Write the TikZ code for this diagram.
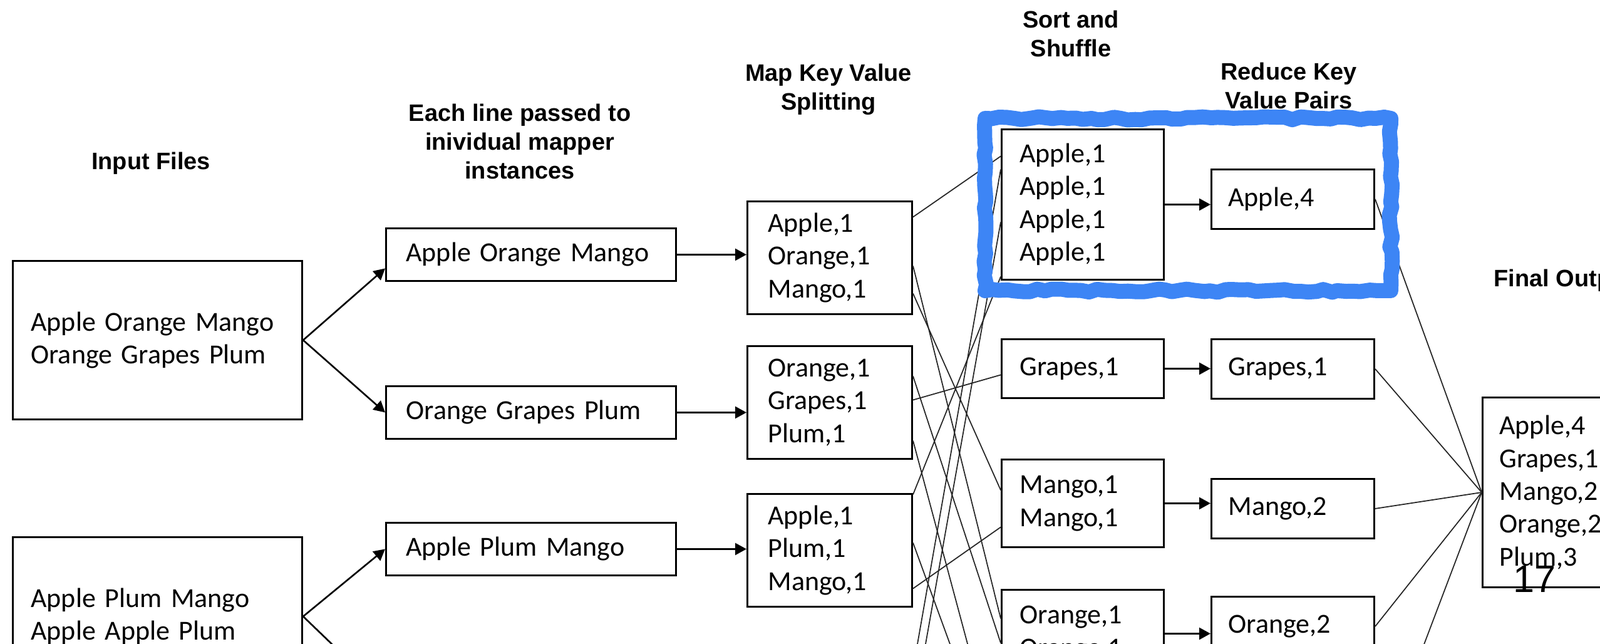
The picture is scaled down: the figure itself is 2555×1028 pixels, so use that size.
\documentclass[tikz,border=0pt]{standalone}
\usepackage{fontspec}
\setmainfont{Carlito}
\newfontfamily\headfont{Liberation Sans}
\usetikzlibrary{arrows.meta, fit, decorations.pathmorphing}
\definecolor{markblue}{RGB}{61,133,245}

\tikzset{
  box/.style={draw, line width=0.8pt, anchor=north west, align=left, inner ysep=0pt,
              font=\fontsize{12.5}{14.9}\selectfont},
  inbox/.style={box, text width=4.04cm, inner xsep=0.29cm, minimum height=2.53cm},
  linebox/.style={box, text width=3.99cm, inner xsep=0.32cm, minimum height=0.84cm},
  mapbox/.style={box, text width=1.97cm, inner xsep=0.33cm, minimum height=1.80cm},
  sortbox/.style={box, text width=2.01cm, inner xsep=0.29cm},
  redbox/.style={box, text width=2.06cm, inner xsep=0.27cm, minimum height=0.95cm},
  outbox/.style={box, text width=2.46cm, inner xsep=0.27cm, minimum height=3.03cm},
  heading/.style={align=center, font=\headfont\bfseries\fontsize{10.8}{13.1}\selectfont},
  link/.style={line width=0.5pt, black!85},
  arr/.style={->, line width=0.75pt},
  hilite/.style={draw=markblue, line width=0.24cm, inner xsep=0.25cm, inner ysep=0.16cm,
                 line join=round, decorate,
                 decoration={random steps, segment length=0.12cm, amplitude=0.025cm}},
}

\begin{document}
\begin{tikzpicture}[x=0.01cm, y=-0.01cm, >={Triangle[length=0.18cm, width=0.19cm]}]
  \useasboundingbox (0,0) rectangle (2555,1028);
  \clip (0,0) rectangle (2555,1028);

  % headings
  \node[heading] (hin) at (241,261) {Input Files};
  \node[heading] (hline) at (830,226) {Each line passed to\\inividual mapper\\instances};
  \node[heading] (hmap) at (1323,143) {Map Key Value\\Splitting};
  \node[heading] (hsort) at (1710,54) {Sort and\\Shuffle};
  \node[heading] (hred) at (2058,137) {Reduce Key\\Value Pairs};
  \node[heading, anchor=west] (hout) at (2373,448) {Final Output};

  % input files
  \node[inbox] (in1) at (19,415) {Apple Orange Mango\\Orange Grapes Plum};
  \node[inbox] (in2) at (19,856) {Apple Plum Mango\\Apple Apple Plum};

  % one line per mapper
  \node[linebox] (l1) at (615,363) {Apple Orange Mango};
  \node[linebox] (l2) at (615,615) {Orange Grapes Plum};
  \node[linebox] (l3) at (615,833) {Apple Plum Mango};
  \coordinate (l4w) at (615,1110);

  % map output
  \node[mapbox] (m1) at (1192,320) {Apple,1\\Orange,1\\Mango,1};
  \node[mapbox] (m2) at (1192,551) {Orange,1\\Grapes,1\\Plum,1};
  \node[mapbox] (m3) at (1192,787) {Apple,1\\Plum,1\\Mango,1};
  \coordinate (m4a) at (1455,1085);
  \coordinate (m4b) at (1455,1157);

  % sort and shuffle
  \node[sortbox, minimum height=2.40cm] (s1) at (1598,205) {Apple,1\\Apple,1\\Apple,1\\Apple,1};
  \node[sortbox, minimum height=0.94cm] (s2) at (1598,540) {Grapes,1};
  \node[sortbox, minimum height=1.40cm] (s3) at (1598,732) {Mango,1\\Mango,1};
  \node[sortbox, minimum height=1.40cm] (s4) at (1598,940) {Orange,1\\Orange,1};
  \coordinate (s5a) at (1598,1225);
  \coordinate (s5b) at (1598,1250);

  % reduce
  \node[redbox] (r1) at (1933,269) {Apple,4};
  \node[redbox] (r2) at (1933,540) {Grapes,1};
  \node[redbox] (r3) at (1933,763) {Mango,2};
  \node[redbox] (r4) at (1933,951) {Orange,2};
  \coordinate (r5e) at (2193,1242);

  % final output
  \node[outbox] (out) at (2366,633) {Apple,4\\Grapes,1\\Mango,2\\Orange,2\\Plum,3};
  \node[font=\headfont\fontsize{17.4}{20}\selectfont] (pg) at (2450,924) {17};

  % splitting
  \draw[arr] (in1.east) -- ([yshift=-0.22cm]l1.west);
  \draw[arr] (in1.east) -- (l2.west);
  \draw[arr] (in2.east) -- (l3.west);
  \draw[arr] (in2.east) -- (l4w);

  \foreach \i in {1,2,3}
    \draw[arr] (l\i.east) -- (l\i.east -| m\i.west);

  % shuffle lines
  \draw[link] ([yshift=0.65cm]m1.east) -- ([yshift=0.77cm]s1.west);
  \draw[link] ([yshift=-0.13cm]m1.east) -- ([yshift=0.24cm]s4.west);
  \draw[link] ([yshift=-0.57cm]m1.east) -- ([yshift=0.21cm]s3.west);
  \draw[link] ([yshift=0.42cm]m2.east) -- ([yshift=-0.15cm]s4.west);
  \draw[link] ([yshift=0.04cm]m2.east) -- ([yshift=-0.10cm]s2.west);
  \draw[link] ([yshift=-0.61cm]m2.east) -- (s5a);
  \draw[link] ([yshift=0.89cm]m3.east) -- ([yshift=-1.15cm]s1.west);
  \draw[link] ([yshift=0.12cm]m3.east) -- (s5b);
  \draw[link] ([yshift=-0.61cm]m3.east) -- ([yshift=-0.38cm]s3.west);
  \draw[link] (m4a) -- ([yshift=0.56cm]s1.west);
  \draw[link] (m4b) -- ([yshift=-0.28cm]s1.west);

  \foreach \i in {1,...,4}
    \draw[arr] (s\i.east) -- (s\i.east -| r\i.west);

  % gather
  \foreach \i in {1,...,4}
    \draw[link] (r\i.east) -- (out.west);
  \draw[link] (r5e) -- (out.west);

  % marker
  \node[hilite, fit=(s1)(r1)] (hl) {};
\end{tikzpicture}
\end{document}
